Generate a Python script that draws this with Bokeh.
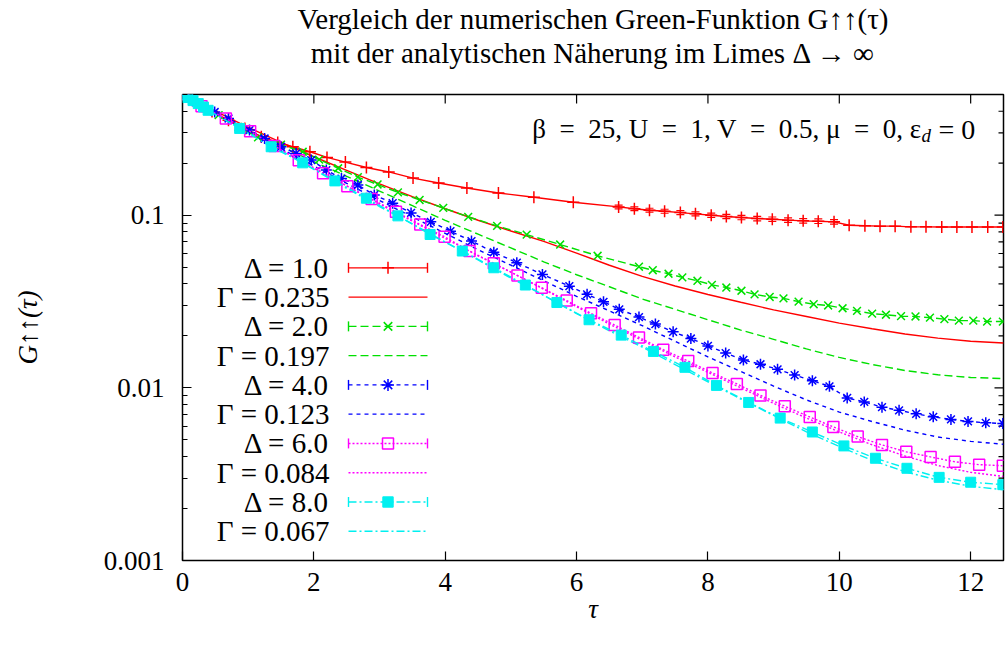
import math
from bokeh.plotting import figure
from bokeh.models import (Range1d, FixedTicker, Label, Title, ColumnDataSource, Whisker,
                          TeeHead)
from bokeh.embed import file_html
from bokeh.resources import INLINE

FONT = "Liberation Serif"

# ---------------- data ----------------
tau_d1 = [0, 0.1, 0.2, 0.3, 0.45, 0.7, 0.95, 1.2,
          1.45, 1.68, 1.94, 2.2, 2.48, 2.8, 3.14, 3.51, 3.9, 4.33, 4.81, 5.35, 5.95,
          6.64, 6.88, 7.11, 7.34, 7.58, 7.81, 8.05, 8.28, 8.51, 8.75, 8.98, 9.22, 9.45,
          9.68, 9.92, 10.15, 10.39, 10.62, 10.85, 11.09, 11.32, 11.56, 11.79, 12.02,
          12.26, 12.49]
G_d1 = [0.5, 0.474, 0.45, 0.428, 0.398, 0.355, 0.318, 0.285,
        0.264, 0.249, 0.233, 0.216, 0.203, 0.189, 0.178, 0.164, 0.1535, 0.1438,
        0.1345, 0.127, 0.1189,
        0.1117, 0.109, 0.1069, 0.1054, 0.1035, 0.1018, 0.1, 0.0982, 0.0969, 0.0956,
        0.0948, 0.0936, 0.0927, 0.0923, 0.0915, 0.0875, 0.0868, 0.0864, 0.0864,
        0.0856, 0.0856, 0.0855, 0.0855, 0.0855, 0.0855, 0.0855]
err_d1 = [0] * 21 + [0.0028] * 15 + [0] * 11

tau_d2 = [0, 0.15, 0.3, 0.55, 0.85, 1.15, 1.5,
          1.83, 2.08, 2.37, 2.67, 2.97, 3.28, 3.61, 3.97, 4.35, 4.79, 5.24, 5.75, 6.32,
          6.95, 7.16, 7.4, 7.61, 7.84, 8.06, 8.28, 8.51, 8.71, 8.94, 9.15, 9.38, 9.61,
          9.83, 10.05, 10.27, 10.5, 10.71, 10.94, 11.16, 11.38, 11.6, 11.82, 12.04,
          12.25, 12.49]
G_d2 = [0.5, 0.463, 0.428, 0.38, 0.325, 0.282, 0.256,
        0.233, 0.21, 0.187, 0.166, 0.1506, 0.1355, 0.1225, 0.1102, 0.0978, 0.0867,
        0.0772, 0.0676, 0.0582,
        0.0503, 0.048, 0.0458, 0.0436, 0.0417, 0.0395, 0.0381, 0.0365, 0.0348, 0.0336,
        0.033, 0.0316, 0.0305, 0.03, 0.0289, 0.0279, 0.0269, 0.0265, 0.026, 0.0259,
        0.0255, 0.025, 0.0245, 0.0245, 0.0242, 0.0242]

tau_d4 = [0, 0.1, 0.2, 0.3,
          0.49, 0.7, 1.02, 1.25, 1.5, 1.73, 1.96, 2.19, 2.42, 2.67, 2.92,
          3.2, 3.48, 3.78, 4.08, 4.4, 4.74, 5.09, 5.48, 5.89, 6.16, 6.41, 6.65,
          6.95, 7.2, 7.47, 7.74, 8.0, 8.27, 8.54, 8.8, 9.06, 9.32, 9.59, 9.85, 10.12,
          10.38, 10.65, 10.91, 11.17, 11.43, 11.7, 11.96, 12.23, 12.49]
G_d4 = [0.5, 0.474, 0.45, 0.428,
        0.396, 0.363, 0.311, 0.278, 0.249, 0.228, 0.2085, 0.1824, 0.163, 0.1495, 0.131,
        0.1174, 0.1031, 0.0915, 0.0808, 0.0708, 0.061, 0.0531, 0.0454, 0.0388, 0.0348,
        0.0315, 0.0285,
        0.0257, 0.0234, 0.0211, 0.0193, 0.0175, 0.0159, 0.0145, 0.0137, 0.0128,
        0.01186, 0.01101, 0.0102, 0.00874, 0.00829, 0.00773, 0.00741, 0.00707,
        0.00679, 0.00656, 0.00639, 0.00627, 0.00622]

tau_d6 = [0, 0.29, 0.66, 1.03, 1.4, 1.77, 2.14, 2.51, 2.88, 3.25,
          3.62, 3.99, 4.37, 4.74, 5.1, 5.47, 5.85, 6.22, 6.58, 6.95, 7.32, 7.7, 8.07,
          8.44, 8.8, 9.17, 9.55, 9.91, 10.28, 10.65, 11.02, 11.39, 11.76, 12.13, 12.49]
G_d6 = [0.5, 0.427, 0.363, 0.306, 0.252, 0.208, 0.175, 0.147, 0.124, 0.1046,
        0.0883, 0.075, 0.062, 0.0526, 0.0447, 0.038, 0.032, 0.027, 0.0231, 0.0196,
        0.01663, 0.01429, 0.01219, 0.01054, 0.00904, 0.00783, 0.00678, 0.00594,
        0.00522, 0.00467, 0.00426, 0.00398, 0.00373, 0.00359, 0.00354]

tau_d8 = [0, 0.08, 0.16, 0.24, 0.32, 0.39,
          0.87, 1.35, 1.83, 2.32, 2.8, 3.28, 3.77, 4.26, 4.74, 5.22, 5.7, 6.19, 6.68,
          7.17, 7.65, 8.13, 8.62, 9.1, 9.59, 10.07, 10.55, 11.03, 11.52, 12.0, 12.49]
G_d8 = [0.5, 0.48, 0.461, 0.443, 0.423, 0.405,
        0.318, 0.249, 0.201, 0.158, 0.1254, 0.0991, 0.0773, 0.062, 0.0496, 0.0394,
        0.0312, 0.0248, 0.0202, 0.01625, 0.01315, 0.01033, 0.00823, 0.00668, 0.00555,
        0.00461, 0.00391, 0.00342, 0.00303, 0.00284, 0.00275]

tau_an = [0, 0.5, 1, 1.5, 2, 2.5, 3, 3.5, 4, 4.5, 5, 5.5, 6, 6.5, 7, 7.5, 8, 8.5,
          9, 9.5, 10, 10.5, 11, 11.5, 12, 12.5]
G_g0235 = [0.5, 0.4, 0.323, 0.264, 0.218, 0.182, 0.152, 0.128, 0.109, 0.0935,
           0.081, 0.0705, 0.0603, 0.0513, 0.0442, 0.0389, 0.0347, 0.0313, 0.0283,
           0.0259, 0.0237, 0.022, 0.0205, 0.0194, 0.0186, 0.0182]
G_g0197 = [0.5, 0.389, 0.309, 0.251, 0.204, 0.168, 0.138, 0.1135, 0.0933, 0.0776,
           0.0646, 0.0537, 0.0452, 0.0385, 0.0327, 0.0285, 0.0248, 0.0216, 0.0191,
           0.0168, 0.015, 0.01365, 0.0126, 0.0119, 0.01148, 0.01132]
G_g0123 = [0.5, 0.389, 0.305, 0.243, 0.193, 0.153, 0.1216, 0.0977, 0.0785, 0.0631,
           0.0513, 0.0417, 0.0339, 0.0279, 0.0229, 0.0186, 0.0151, 0.01245, 0.01023,
           0.00851, 0.00724, 0.00638, 0.00569, 0.00519, 0.0049, 0.00471]
G_g0084 = [0.5, 0.389, 0.305, 0.24, 0.188, 0.148, 0.116, 0.0923, 0.0733, 0.0582,
           0.0468, 0.0372, 0.0295, 0.0234, 0.0188, 0.0151, 0.0123, 0.01, 0.00813,
           0.00668, 0.00556, 0.00468, 0.00403, 0.00355, 0.00324, 0.00307]
G_g0067 = [0.5, 0.385, 0.302, 0.237, 0.184, 0.143, 0.1122, 0.0891, 0.07, 0.055,
           0.0432, 0.0343, 0.0269, 0.0214, 0.0172, 0.01365, 0.01084, 0.00861, 0.00692,
           0.00556, 0.00457, 0.0038, 0.00327, 0.00292, 0.00269, 0.00257]

x_ticks = [0, 2, 4, 6, 8, 10, 12]
y_ticks = [0.001, 0.01, 0.1]
y_tick_labels = ["0.001", "0.01", "0.1"]
y_minor = [m * d for d in (0.001, 0.01, 0.1) for m in range(2, 10) if m * d <= 0.5]

legend_labels = ["Δ = 1.0", "Γ = 0.235", "Δ = 2.0", "Γ = 0.197", "Δ = 4.0",
                 "Γ = 0.123", "Δ = 6.0", "Γ = 0.084", "Δ = 8.0", "Γ = 0.067"]
title_line1 = "Vergleich der numerischen Green-Funktion G↑↑(τ)"
title_line2 = "mit der analytischen Näherung im Limes Δ → ∞"
x_label = "τ"
y_label = "G↑↑(τ)"
NB = "\u00a0 "
param_main = f"β{NB}={NB}25, U{NB}={NB}1, V{NB}={NB}0.5, μ{NB}={NB}0, ε"
param_sub = "d"
param_tail = "\u00a0= 0"

RED, GREEN, BLUE, MAG, CYAN = "#ff0000", "#00e000", "#0000ff", "#ff00ff", "#00f0f0"
D_GREEN, D_BLUE, D_MAG, D_CYAN = "8 4", "4 4", "2 2", "8 3 2 3"

# ---------------- figure ----------------
X0, X1, Y0, Y1 = 0, 12.5, 0.001, 0.5
p = figure(width=1005, height=646, x_range=Range1d(X0, X1), y_range=Range1d(Y0, Y1),
           y_axis_type="log", output_backend="svg", toolbar_location=None,
           min_border_left=182, min_border_right=2, min_border_top=93,
           min_border_bottom=86, title=title_line1)
p.grid.visible = False
p.outline_line_color = "black"
p.outline_line_width = 1.5
p.background_fill_color = "white"
p.border_fill_color = "white"

p.title.align = "center"
p.title.text_font = FONT
p.title.text_font_size = "29px"
p.title.text_font_style = "normal"
p.title.text_color = "black"
p.title.standoff = 0
t2 = Title(text=title_line2, align="center", text_font=FONT, text_font_size="29px",
           text_font_style="normal", text_color="black", standoff=0)
try:
    t2.padding = dict(left=0, right=0, top=0, bottom=26)
except Exception:
    t2.standoff = 10
p.add_layout(t2, "above")

FL, FR, FT, FB = 182, 1003, 93, 560
def xd(px):
    return X0 + (px - FL) / (FR - FL) * (X1 - X0)
def yd(py):
    l0, l1 = math.log10(Y0), math.log10(Y1)
    return 10 ** (l0 + (FB - py) / (FB - FT) * (l1 - l0))

def style_axis(ax):
    ax.axis_line_color = None
    ax.major_tick_in = 9
    ax.major_tick_out = 0
    ax.minor_tick_in = 5
    ax.minor_tick_out = 0
    ax.major_tick_line_width = 1.2
    ax.minor_tick_line_width = 1.2
    ax.major_tick_line_color = "black"
    ax.minor_tick_line_color = "black"
    ax.major_label_text_font = FONT
    ax.major_label_text_font_size = "27px"
    ax.major_label_text_color = "black"
    ax.axis_label_text_font = FONT
    ax.axis_label_text_font_size = "27px"
    ax.axis_label_text_font_style = "italic"
    ax.axis_label_text_color = "black"

xa = p.xaxis[0]
xa.ticker = FixedTicker(ticks=x_ticks)
style_axis(xa)
xa.major_label_standoff = 12
xa.axis_label = x_label
xa.axis_label_standoff = 0
ya = p.yaxis[0]
ya.ticker = FixedTicker(ticks=y_ticks, minor_ticks=y_minor)
ya.major_label_overrides = dict(zip(y_ticks, y_tick_labels))
style_axis(ya)
ya.major_label_standoff = 18
ya.axis_label = y_label
ya.axis_label_standoff = 58

# mirrored inward ticks on the top and right frame edges
p.ray(x=x_ticks, y=[Y1] * len(x_ticks), length=9, angle=-math.pi / 2,
      length_units="screen", line_color="black", line_width=1.2)
p.ray(x=[X1] * len(y_ticks), y=y_ticks, length=9, angle=math.pi,
      length_units="screen", line_color="black", line_width=1.2)
p.ray(x=[X1] * len(y_minor), y=y_minor, length=5, angle=math.pi,
      length_units="screen", line_color="black", line_width=1.2)

# ---------------- analytic curves ----------------
p.line(tau_an, G_g0235, line_color=RED, line_width=1.4)
p.line(tau_an, G_g0197, line_color=GREEN, line_width=1.4, line_dash=D_GREEN)
p.line(tau_an, G_g0123, line_color=BLUE, line_width=1.4, line_dash=D_BLUE)
p.line(tau_an, G_g0084, line_color=MAG, line_width=1.4, line_dash=D_MAG)
p.line(tau_an, G_g0067, line_color=CYAN, line_width=1.4, line_dash=D_CYAN)

# ---------------- numerical data ----------------
p.line(tau_d1, G_d1, line_color=RED, line_width=1.4)
eb_t = [t for t, e in zip(tau_d1, err_d1) if e > 0]
eb_g = [g for g, e in zip(G_d1, err_d1) if e > 0]
eb_e = [e for e in err_d1 if e > 0]
src_eb = ColumnDataSource(dict(base=eb_t, lower=[g - e for g, e in zip(eb_g, eb_e)],
                               upper=[g + e for g, e in zip(eb_g, eb_e)]))
p.add_layout(Whisker(source=src_eb, base="base", lower="lower", upper="upper",
                     dimension="height", line_color=RED, line_width=1.2,
                     upper_head=TeeHead(size=8, line_color=RED, line_width=1.2),
                     lower_head=TeeHead(size=8, line_color=RED, line_width=1.2)))
p.scatter(tau_d1, G_d1, marker="cross", size=12, line_color=RED, line_width=1.5)

p.line(tau_d2, G_d2, line_color=GREEN, line_width=1.4, line_dash=D_GREEN)
p.scatter(tau_d2, G_d2, marker="x", size=11, line_color=GREEN, line_width=1.5)

p.line(tau_d4, G_d4, line_color=BLUE, line_width=1.4, line_dash=D_BLUE)
p.scatter(tau_d4, G_d4, marker="asterisk", size=11, line_color=BLUE, line_width=1.5)

p.line(tau_d6, G_d6, line_color=MAG, line_width=1.4, line_dash=D_MAG)
p.scatter(tau_d6, G_d6, marker="square", size=11, line_color=MAG, line_width=1.5,
          fill_color=None)

p.line(tau_d8, G_d8, line_color=CYAN, line_width=1.4, line_dash=D_CYAN)
p.scatter(tau_d8, G_d8, marker="square", size=10, line_color=CYAN, fill_color=CYAN)

# ---------------- legend (gnuplot style: text left, sample right) ----------------
styles = [
    (RED, None, "cross", True, None),
    (RED, None, None, False, None),
    (GREEN, D_GREEN, "x", True, None),
    (GREEN, D_GREEN, None, False, None),
    (BLUE, D_BLUE, "asterisk", True, None),
    (BLUE, D_BLUE, None, False, None),
    (MAG, D_MAG, "square", True, None),
    (MAG, D_MAG, None, False, None),
    (CYAN, D_CYAN, "square", True, CYAN),
    (CYAN, D_CYAN, None, False, None),
]
row0, drow = 266.7, 29.33
sx0, sx1, smid, txt_right = 348, 427, 387.5, 329
for i, (lab, (col, dash, mk, eb, fill)) in enumerate(zip(legend_labels, styles)):
    ry = row0 + i * drow
    p.add_layout(Label(x=xd(txt_right), y=yd(ry), text=lab, text_align="right",
                       text_baseline="middle", text_font=FONT,
                       text_font_size="29px", text_color="black"))
    kw = dict(line_color=col, line_width=1.4)
    if dash:
        kw["line_dash"] = dash
    p.line([xd(sx0), xd(sx1)], [yd(ry), yd(ry)], **kw)
    if eb:
        for cx in (sx0, sx1):
            p.line([xd(cx), xd(cx)], [yd(ry - 5), yd(ry + 5)], line_color=col,
                   line_width=1.4)
    if mk:
        if mk == "square":
            p.scatter([xd(smid)], [yd(ry)], marker="square", size=11 if fill is None else 10,
                      line_color=col, line_width=1.5, fill_color=fill)
        else:
            p.scatter([xd(smid)], [yd(ry)], marker=mk, size=12, line_color=col,
                      line_width=1.5)

# ---------------- parameter text (top right), with subscript d ----------------
def add_text(px, py, txt, align="left", style="normal", size="28px"):
    p.add_layout(Label(x=xd(px), y=yd(py), text=txt, text_align=align,
                       text_baseline="middle", text_font=FONT, text_font_style=style,
                       text_font_size=size, text_color="black"))

add_text(921, 128, param_main, align="right", size="27px")
add_text(921, 134, param_sub, style="italic", size="19px")
add_text(931, 128, param_tail)

open("out.html", "w").write(file_html(p, INLINE))
